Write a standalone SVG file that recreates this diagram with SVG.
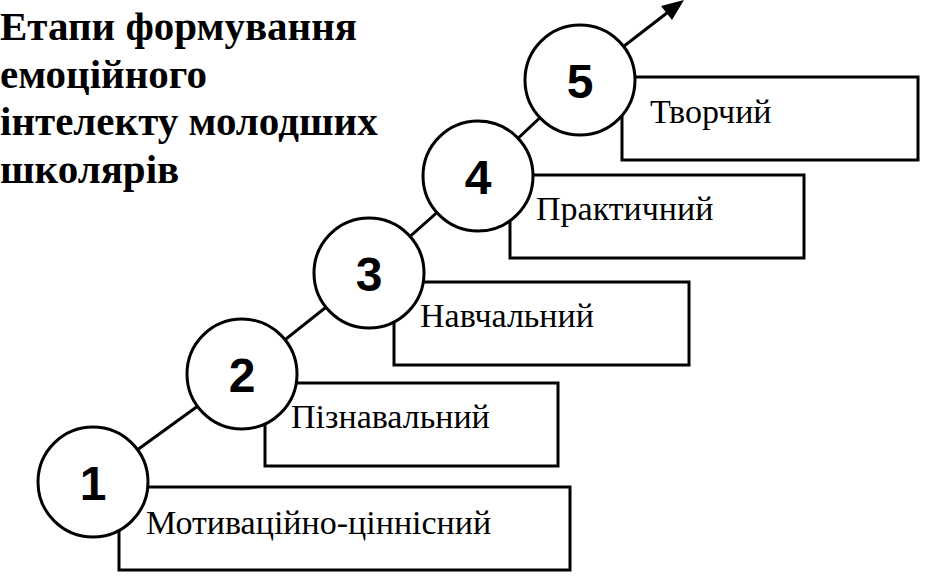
<svg xmlns="http://www.w3.org/2000/svg" width="939" height="579" viewBox="0 0 939 579">
<defs>
<style>
.box{fill:#fff;stroke:#000;stroke-width:3}
.circ{fill:#fff;stroke:#000;stroke-width:3}
.num{font-family:"Liberation Sans",Arial,sans-serif;font-weight:bold;font-size:48px;text-anchor:middle;fill:#000}
.lbl{font-family:"Liberation Serif","Times New Roman",serif;font-size:34px;fill:#000}
.title{font-family:"Liberation Serif","Times New Roman",serif;font-weight:bold;font-size:41px;fill:#000}
.conn{stroke:#000;stroke-width:3;fill:none}
</style>
</defs>
<rect width="939" height="579" fill="#fff"/>
<g id="title">
<text class="title" x="0" y="40">Етапи формування</text>
<text class="title" x="0" y="88">емоційного</text>
<text class="title" x="0" y="135">інтелекту молодших</text>
<text class="title" x="0" y="183">школярів</text>
</g>
<g id="connectors">
<polyline class="conn" points="93,482 242,374 369,273 478,176 580,80"/>
<line class="conn" x1="580" y1="80" x2="676" y2="6"/>
<path d="M684,0 L661,6 L672,20 z" fill="#000"/>
</g>
<g id="stage1">
<rect class="box" x="119" y="487" width="451" height="83"/>
<circle class="circ" cx="93" cy="482" r="55"/>
<text class="num" x="93" y="500">1</text>
<text class="lbl" x="146" y="534">Мотиваційно-ціннісний</text>
</g>
<g id="stage2">
<rect class="box" x="265" y="383" width="293" height="83"/>
<circle class="circ" cx="242" cy="374" r="55"/>
<text class="num" x="242" y="392">2</text>
<text class="lbl" x="291" y="428">Пізнавальний</text>
</g>
<g id="stage3">
<rect class="box" x="394" y="282" width="295" height="83"/>
<circle class="circ" cx="369" cy="273" r="55"/>
<text class="num" x="369" y="291">3</text>
<text class="lbl" x="420" y="327">Навчальний</text>
</g>
<g id="stage4">
<rect class="box" x="510" y="175" width="294" height="83"/>
<circle class="circ" cx="478" cy="176" r="55"/>
<text class="num" x="478" y="194">4</text>
<text class="lbl" x="536" y="220">Практичний</text>
</g>
<g id="stage5">
<rect class="box" x="622" y="77" width="296" height="83"/>
<circle class="circ" cx="580" cy="80" r="55"/>
<text class="num" x="580" y="98">5</text>
<text class="lbl" x="650" y="123">Творчий</text>
</g>
</svg>
